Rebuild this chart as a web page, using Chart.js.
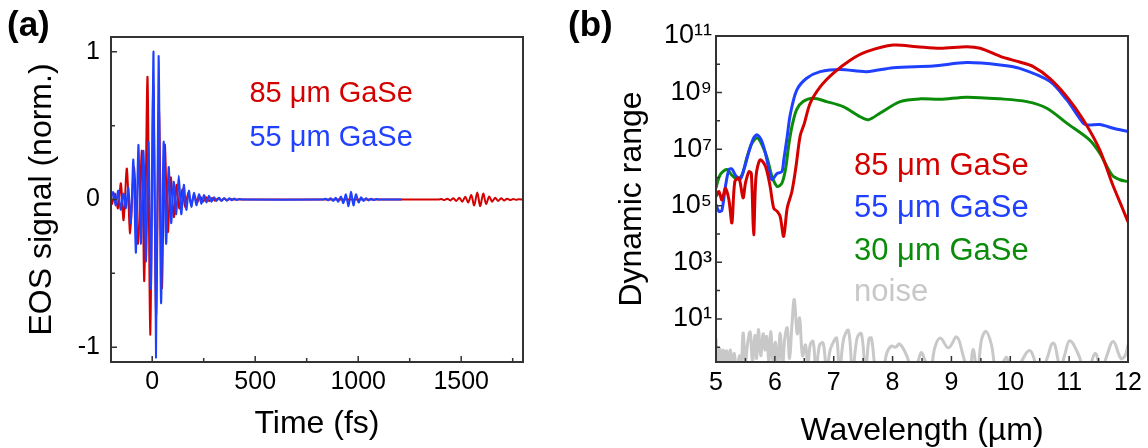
<!DOCTYPE html>
<html lang="en">
<head>
  <meta charset="UTF-8">
  <title>EOS signal and dynamic range</title>
  <script src="https://cdn.jsdelivr.net/npm/chart.js"></script>
  <style>
    body {
      margin: 0;
      background: #fff;
      font-family: "Liberation Sans", Arial, sans-serif;
    }
    .panel {
      position: absolute;
      top: 0;
      width: 574px;
      height: 448px;
    }
    #panelA { left: 0; }
    #panelB { left: 574px; }
    .tag {
      position: absolute;
      top: 6px;
      font: bold 35px "Liberation Sans", Arial, sans-serif;
      line-height: 35px;
    }
  </style>
</head>
<body>

<div class="panel" id="panelA"><canvas id="chartA" width="574" height="448"></canvas></div>
<div class="panel" id="panelB"><canvas id="chartB" width="574" height="448"></canvas></div>
<div class="tag" style="left:7px">(a)</div>
<div class="tag" style="left:568px">(b)</div>

<script>
  // (a) EOS traces, time in fs, signal normalised
  const time55 = [-200, -189.5, -177, -165, -153, -140.5, -128, -116, -104, -91.5,
    -79, -67, -55, -42.5, -30, -18, -6, 6.5, 18.5, 31,
    43, 55.5, 67.5, 80, 92, 104.5, 116.5, 129, 141, 153.5,
    165.5, 178, 190, 202.5, 214.5, 227, 239, 251.5, 263.5, 276,
    288, 300.5, 312.5, 325, 337, 349.5, 361.5, 374, 386, 398.5,
    410.5, 423, 440,
    830, 842, 854, 866, 879, 891, 903, 916, 928, 940,
    953, 965, 977, 989, 1002, 1014, 1026, 1038, 1051, 1063,
    1075, 1088, 1100, 1210];
  const eos55 = [0, 0.05, -0.04, 0.06, -0.07, 0.04, -0.06, 0.08, -0.16, 0.27,
    -0.36, 0.37, -0.30, 0.33, -0.42, 0.39, -0.60, 1.00, -1.07, 0.97,
    -0.70, 0.39, -0.30, 0.22, -0.16, 0.12, -0.10, 0.16, -0.10, 0.10,
    -0.07, 0.06, -0.05, 0.045, -0.04, 0.035, -0.03, 0.03, -0.02, 0.025,
    -0.015, 0.015, -0.01, 0.012, -0.01, 0.01, -0.008, 0.008, -0.005, 0.006,
    -0.004, 0.004, 0,
    0, 0.005, -0.005, 0.008, -0.01, 0.012, -0.015, 0.02, -0.025, 0.035,
    -0.045, 0.052, -0.04, 0.035, -0.02, 0.015, -0.01, 0.008, -0.006, 0.005,
    -0.004, 0.003, 0, 0];

  const time85 = [-200, -195, -181, -166, -152, -139, -123, -107, -88, -69,
    -50, -38.5, -22.7, -9.7, 5, 19, 33, 47, 61, 76,
    90, 105, 118, 131, 146, 160, 175, 189, 204, 218,
    233, 247, 262, 276, 291, 305, 320, 334, 349, 363,
    378, 400,
    1390, 1404, 1418, 1433, 1447, 1462, 1476, 1491,
    1505, 1520, 1534, 1549, 1563, 1578, 1592, 1607, 1621, 1636,
    1650, 1665, 1679, 1694, 1708, 1723, 1737, 1752, 1766, 1780,
    1800];
  const eos85 = [0, -0.03, 0.04, -0.06, 0.11, -0.14, 0.21, -0.23, 0.22, -0.30,
    0.33, -0.55, 0.83, -0.915, 0.78, -0.78, 0.6, -0.6, 0.37, -0.22,
    0.15, -0.12, 0.1, -0.06, 0.07, -0.05, 0.045, -0.03, 0.03, -0.02,
    0.02, -0.015, 0.015, -0.01, 0.01, -0.008, 0.008, -0.006, 0.005, -0.004,
    0.003, 0,
    0, 0.003, -0.004, 0.005, -0.006, 0.008, -0.01, 0.012,
    -0.015, 0.018, -0.02, 0.03, -0.04, 0.048, -0.045, 0.04, -0.03, 0.02,
    -0.015, 0.012, -0.01, 0.008, -0.006, 0.005, -0.004, 0.003, -0.002, 0.001,
    0];

  const timeTicks = [0, 250, 500, 750, 1000, 1250, 1500, 1750];
  const eosTicks = [-1, -0.5, 0, 0.5, 1];

  // (b) dynamic range vs wavelength (um)
  const wl85 = [5.00, 5.05, 5.10, 5.16, 5.22, 5.27, 5.32, 5.39, 5.46, 5.50,
    5.56, 5.60, 5.64, 5.68, 5.75, 5.84, 5.92, 5.98, 6.04, 6.09,
    6.15, 6.21, 6.29, 6.36, 6.43, 6.50, 6.60, 6.77, 6.99, 7.28,
    7.56, 8.01, 8.41, 8.81, 9.26, 9.49, 9.83, 10.16, 10.39, 10.67,
    10.96, 11.24, 11.52, 11.74, 11.88, 12.0];
  const dr85 = [2.1e5, 3.2e5, 1.6e5, 4.2e5, 1.6e5, 2.5e4, 7.2e5, 9.5e5, 1.9e5, 6.3e5,
    1.6e6, 1.4e6, 9.5e3, 1.1e6, 4.2e6, 2.5e6, 4.8e5, 8.3e4, 6.3e4, 4.2e4,
    8.3e3, 8.3e4, 3.2e5, 2.5e6, 3e7, 8e7, 4.2e8, 1.6e9, 4.8e9, 1.4e10,
    2.8e10, 4.8e10, 4.2e10, 3.7e10, 4.2e10, 3.7e10, 1.9e10, 1.2e10, 8.3e9, 3.2e9,
    7.2e8, 1.1e8, 9.5e6, 5.5e5, 1.1e5, 2.7e4];

  const wl55 = [5.00, 5.05, 5.10, 5.16, 5.22, 5.27, 5.33, 5.41, 5.48, 5.56,
    5.64, 5.70, 5.77, 5.84, 5.90, 5.95, 6.04, 6.12, 6.15, 6.21,
    6.26, 6.37, 6.54, 6.77, 7.11, 7.56, 8.01, 8.69, 9.26, 9.83,
    10.16, 10.67, 10.96, 11.24, 11.32, 11.52, 11.75, 12.0];
  const dr55 = [1.1e5, 6.3e4, 6.9e4, 4.8e5, 1.9e6, 2e6, 1.2e6, 8.7e5, 2.1e6, 8.3e6,
    2.5e7, 3.2e7, 2.1e7, 7.2e6, 1.9e6, 8.3e5, 1.4e6, 1.6e6, 4e6, 2.8e7,
    1.6e8, 1.2e9, 3.2e9, 5.5e9, 6.6e9, 5.5e9, 7.6e9, 8.7e9, 1.15e10, 9.5e9,
    7.2e9, 2.5e9, 5.5e8, 8.3e7, 7.2e7, 7.4e7, 5.5e7, 4.2e7];

  const wl30 = [5.00, 5.05, 5.10, 5.19, 5.27, 5.36, 5.44, 5.53, 5.61, 5.70,
    5.77, 5.87, 5.95, 6.04, 6.12, 6.18, 6.24, 6.29, 6.37, 6.48,
    6.65, 6.88, 7.16, 7.45, 7.59, 7.79, 8.13, 8.47, 8.81, 9.26,
    9.83, 10.28, 10.62, 10.96, 11.35, 11.52, 11.73, 11.86, 12.0];
  const dr30 = [4.2e5, 1e6, 1.5e6, 1.9e6, 1.2e6, 8.7e5, 1.2e6, 5.5e6, 1.6e7, 2.5e7,
    1.6e7, 4.8e6, 1.1e6, 4.8e5, 6.3e5, 1.9e6, 1.6e7, 6.3e7, 2.5e8, 4.8e8,
    6.3e8, 4.8e8, 3.2e8, 1.4e8, 1.1e8, 1.9e8, 4.8e8, 6e8, 5.8e8, 6.9e8,
    6e8, 4.8e8, 2.8e8, 8.3e7, 2.1e7, 7.2e6, 1.2e6, 8.3e5, 7.1e5];

  const wlNoise = [5.00, 5.03, 5.06, 5.09, 5.12, 5.15, 5.18, 5.21, 5.24, 5.28,
    5.31, 5.35, 5.40, 5.43, 5.46, 5.50, 5.54, 5.58, 5.62, 5.66,
    5.69, 5.72, 5.76, 5.80, 5.83, 5.86, 5.90, 5.93, 5.97, 6.01,
    6.05, 6.09, 6.13, 6.17, 6.21, 6.25, 6.29, 6.33, 6.38, 6.42,
    6.47, 6.52, 6.56, 6.60, 6.65, 6.70, 6.76, 6.82, 6.88, 6.94,
    7.00, 7.05, 7.10, 7.17, 7.25, 7.32, 7.40, 7.47, 7.54, 7.60,
    7.64, 7.72, 7.82, 7.90, 7.98, 8.05, 8.12, 8.24, 8.36, 8.44,
    8.49, 8.55, 8.64, 8.72, 8.81, 8.95, 9.09, 9.20, 9.30, 9.37,
    9.44, 9.51, 9.59, 9.68, 9.77, 9.88, 9.94, 10.02, 10.16, 10.33,
    10.47, 10.58, 10.73, 10.85, 10.92, 11.01, 11.15, 11.30, 11.44, 11.55,
    11.64, 11.75, 11.88, 11.95, 12.0];
  const drNoise = [2.0, 0.2, 0.9, 0.25, 0.8, 0.3, 0.75, 0.2, 0.8, 0.25,
    0.6, 0.15, 0.5, 0.2, 3.2, 0.3, 1.5, 3.4, 0.3, 2.6,
    0.4, 4.2, 0.5, 3.0, 0.8, 2.4, 0.3, 3.6, 0.3, 1.5,
    0.2, 3.2, 0.2, 2.2, 4.8, 0.4, 6, 48, 3, 10.7,
    0.5, 1.2, 0.2, 1.2, 1.6, 0.15, 1.2, 1.4, 0.15, 0.8,
    1.6, 2.1, 0.15, 2.0, 3.9, 0.15, 2.2, 3.0, 0.15, 2.0,
    2.1, 0.15, 0.1, 0.6, 1.1, 1.0, 1.3, 0.5, 0.1, 0.35,
    0.65, 0.35, 0.15, 1.0, 2.1, 0.95, 2.3, 0.5, 0.1, 0.83,
    0.1, 1.8, 3.6, 1.2, 0.1, 0.3, 0.43, 0.1, 0.25, 0.76,
    0.2, 0.25, 1.4, 0.2, 0.5, 1.7, 0.6, 0.1, 0.6, 0.15,
    0.5, 1.6, 0.4, 0.5, 1.2];

  const wlTicks = [5, 5.5, 6, 6.5, 7, 7.5, 8, 8.5, 9, 9.5, 10, 10.5, 11, 11.5, 12];
  const drExponents = [0, 1, 2, 3, 4, 5, 6, 7, 8, 9, 10, 11];

  const RED = '#d40000', BLUE = '#2040ff', GREEN = '#0a8c0a', GREY = '#c8c8c8';
  const FONT = '"Liberation Sans", Arial, sans-serif';
  Chart.defaults.font.family = FONT;
  Chart.defaults.color = '#000';

  const pts = (xs, ys) => xs.map((x, i) => ({x: x, y: ys[i]}));
  const sup = n => String(n).split('').map(d => '⁰¹²³⁴⁵⁶⁷⁸⁹'[+d]).join('');

  // box around plot area + inward tick marks on left and bottom
  const frame = {
    id: 'frame',
    afterDraw(chart) {
      const {ctx, chartArea: a} = chart;
      ctx.save();
      ctx.strokeStyle = '#333';
      ctx.lineWidth = 2;
      ctx.strokeRect(a.left, a.top, a.right - a.left, a.bottom - a.top);
      ctx.lineWidth = 1.5;
      const xs = chart.scales.x, ys = chart.scales.y;
      ctx.beginPath();
      xs.ticks.forEach(t => {
        const p = xs.getPixelForValue(t.value);
        const len = t.label !== '' ? 6 : 4;
        ctx.moveTo(p, a.bottom);
        ctx.lineTo(p, a.bottom - len);
      });
      ys.ticks.forEach(t => {
        const p = ys.getPixelForValue(t.value);
        const len = t.label !== '' ? 6 : 4;
        ctx.moveTo(a.left, p);
        ctx.lineTo(a.left + len, p);
      });
      ctx.stroke();
      ctx.restore();
    }
  };

  // coloured sample names placed in data coordinates
  const curveLabels = {
    id: 'curveLabels',
    afterDraw(chart, args, opts) {
      const {ctx, scales: {x, y}} = chart;
      ctx.save();
      ctx.font = opts.size + 'px ' + FONT;
      ctx.textBaseline = 'alphabetic';
      opts.items.forEach(it => {
        ctx.fillStyle = it.color;
        ctx.fillText(it.text, x.getPixelForValue(it.x), y.getPixelForValue(it.y));
      });
      ctx.restore();
    }
  };

  new Chart(document.getElementById('chartA'), {
    type: 'line',
    data: {
      datasets: [{
        label: '55 μm GaSe',
        data: pts(time55, eos55),
        borderColor: BLUE,
        borderWidth: 2,
        order: 1
      }, {
        label: '85 μm GaSe',
        data: pts(time85, eos85),
        borderColor: RED,
        borderWidth: 2,
        order: 2
      }]
    },
    options: {
      responsive: false,
      animation: false,
      devicePixelRatio: 1,
      layout: { padding: { top: 37, right: 51, left: 0, bottom: 0 } },
      elements: { point: { radius: 0 }, line: { tension: 0.3 } },
      plugins: {
        legend: { display: false },
        tooltip: { enabled: false },
        curveLabels: {
          size: 29,
          items: [
            { text: '85 μm GaSe', x: 472, y: 0.66, color: RED },
            { text: '55 μm GaSe', x: 472, y: 0.36, color: BLUE }
          ]
        }
      },
      scales: {
        x: {
          type: 'linear',
          min: -200,
          max: 1800,
          afterBuildTicks: s => { s.ticks = timeTicks.map(v => ({ value: v })); },
          afterFit: s => { s.height = 86; },
          grid: { display: false, drawTicks: false },
          border: { display: false },
          ticks: {
            autoSkip: false,
            maxRotation: 0,
            padding: 5,
            font: { size: 25 },
            callback: v => (v % 500 === 0 ? v : '')
          },
          title: {
            display: true,
            text: 'Time (fs)',
            font: { size: 32, lineHeight: 1 },
            padding: { top: 0, bottom: 8 }
          }
        },
        y: {
          min: -1.1,
          max: 1.1,
          afterBuildTicks: s => { s.ticks = eosTicks.map(v => ({ value: v })); },
          afterFit: s => { s.width = 111; },
          grid: { display: false, drawTicks: false },
          border: { display: false },
          ticks: {
            autoSkip: false,
            padding: 11,
            font: { size: 25 },
            callback: v => (Number.isInteger(v) ? v : '')
          },
          title: {
            display: true,
            text: 'EOS signal (norm.)',
            font: { size: 32, lineHeight: 1 },
            padding: { top: 26, bottom: 0 }
          }
        }
      }
    },
    plugins: [frame, curveLabels]
  });

  new Chart(document.getElementById('chartB'), {
    type: 'line',
    data: {
      datasets: [{
        label: '85 μm GaSe',
        data: pts(wl85, dr85),
        borderColor: RED,
        order: 1
      }, {
        label: '55 μm GaSe',
        data: pts(wl55, dr55),
        borderColor: BLUE,
        order: 2
      }, {
        label: '30 μm GaSe',
        data: pts(wl30, dr30),
        borderColor: GREEN,
        order: 3
      }, {
        label: 'noise',
        data: pts(wlNoise, drNoise),
        borderColor: GREY,
        tension: 0.4,
        order: 4
      }]
    },
    options: {
      responsive: false,
      animation: false,
      devicePixelRatio: 1,
      layout: { padding: { top: 36, right: 20, left: 0, bottom: 0 } },
      elements: { point: { radius: 0 }, line: { tension: 0.3, borderWidth: 3 } },
      plugins: {
        legend: { display: false },
        tooltip: { enabled: false },
        curveLabels: {
          size: 31,
          items: [
            { text: '85 μm GaSe', x: 7.345, y: 1.24e6, color: RED },
            { text: '55 μm GaSe', x: 7.345, y: 4.0e4, color: BLUE },
            { text: '30 μm GaSe', x: 7.345, y: 1.24e3, color: GREEN },
            { text: 'noise', x: 7.345, y: 41.7, color: GREY }
          ]
        }
      },
      scales: {
        x: {
          type: 'linear',
          min: 5,
          max: 12,
          afterBuildTicks: s => { s.ticks = wlTicks.map(v => ({ value: v })); },
          afterFit: s => { s.height = 86; },
          grid: { display: false, drawTicks: false },
          border: { display: false },
          ticks: {
            autoSkip: false,
            maxRotation: 0,
            padding: 6,
            font: { size: 25 },
            callback: v => (Number.isInteger(v) ? v : '')
          },
          title: {
            display: true,
            text: 'Wavelength (µm)',
            font: { size: 32, lineHeight: 1 },
            padding: { top: 0, bottom: 1 }
          }
        },
        y: {
          type: 'logarithmic',
          min: Math.pow(10, -0.5),
          max: 1e11,
          afterBuildTicks: s => { s.ticks = drExponents.map(e => ({ value: Math.pow(10, e) })); },
          afterFit: s => { s.width = 142; },
          grid: { display: false, drawTicks: false },
          border: { display: false },
          ticks: {
            autoSkip: false,
            padding: 4,
            font: { size: 27 },
            callback: v => {
              const e = Math.round(Math.log10(v));
              return e % 2 === 1 ? '10' + sup(e) : '';
            }
          },
          title: {
            display: true,
            text: 'Dynamic range',
            font: { size: 32, lineHeight: 1 },
            padding: { top: 42, bottom: 0 }
          }
        }
      }
    },
    plugins: [frame, curveLabels]
  });
</script>

</body>
</html>
